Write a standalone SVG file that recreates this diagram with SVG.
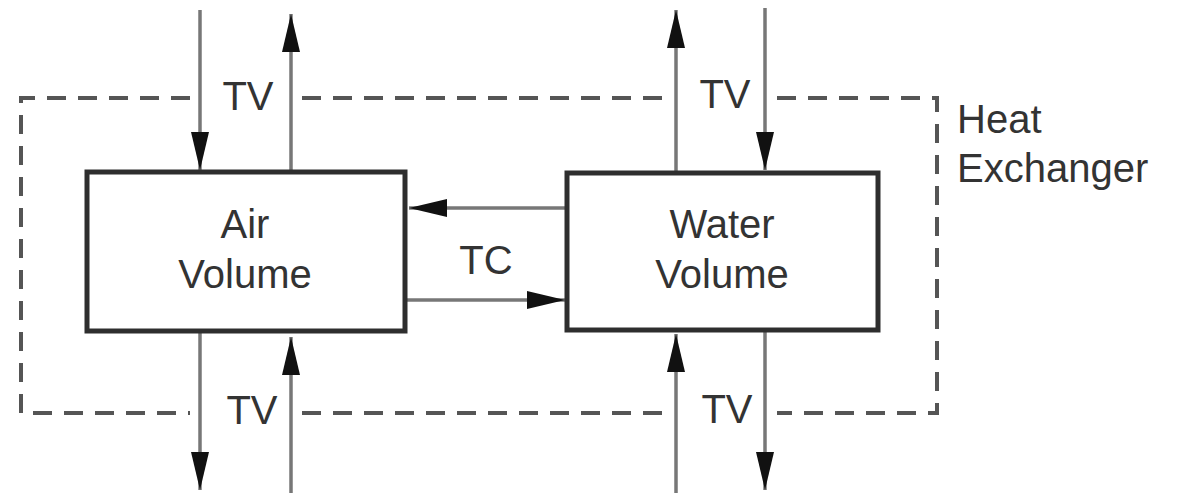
<svg xmlns="http://www.w3.org/2000/svg" width="1183" height="493" viewBox="0 0 1183 493">
<style>
.box{fill:#fff;stroke:#2e2e2e;stroke-width:5}
.dash{fill:none;stroke:#555;stroke-width:4;stroke-dasharray:19 12}
.arr{fill:none;stroke:#777;stroke-width:3.5;marker-end:url(#ah)}
text{font-family:"Liberation Sans",Arial,sans-serif;font-size:40px;fill:#333;text-anchor:middle}
.lab{text-anchor:start}
</style>
<defs>
<marker id="ah" viewBox="0 0 38 20" refX="38" refY="10" markerWidth="38" markerHeight="20" markerUnits="userSpaceOnUse" orient="auto">
<path d="M0,1 L38,10 L0,19 z" fill="#111"/>
</marker>
</defs>
<rect width="1183" height="493" fill="#fff"/>
<g id="heat-exchanger">
<path class="dash" d="M190,98 H21 V413 H190"/>
<path class="dash" d="M302,98 H666"/>
<path class="dash" d="M302,413 H666"/>
<path class="dash" d="M777,98 H937 V413 H777"/>
<text class="lab" x="957" y="133">Heat</text>
<text class="lab" x="957" y="182">Exchanger</text>
</g>
<g id="connectors">
<line class="arr" x1="200" y1="10" x2="200" y2="170"/>
<line class="arr" x1="291" y1="172" x2="291" y2="14"/>
<line class="arr" x1="676" y1="172" x2="676" y2="10"/>
<line class="arr" x1="765" y1="8" x2="765" y2="170"/>
<line class="arr" x1="200" y1="332" x2="200" y2="490"/>
<line class="arr" x1="291" y1="493" x2="291" y2="337"/>
<line class="arr" x1="676" y1="493" x2="676" y2="334"/>
<line class="arr" x1="765" y1="330" x2="765" y2="490"/>
<line class="arr" x1="566" y1="208" x2="409" y2="208"/>
<line class="arr" x1="406" y1="300" x2="565" y2="300"/>
<text x="248" y="110">TV</text>
<text x="725" y="108">TV</text>
<text x="252" y="424">TV</text>
<text x="727" y="423">TV</text>
<text x="486" y="274">TC</text>
</g>
<g id="air-volume">
<rect class="box" x="87" y="172" width="318" height="159"/>
<text x="245" y="238">Air</text>
<text x="245" y="288">Volume</text>
</g>
<g id="water-volume">
<rect class="box" x="567" y="173" width="311" height="157"/>
<text x="722" y="238">Water</text>
<text x="722" y="288">Volume</text>
</g>
</svg>
